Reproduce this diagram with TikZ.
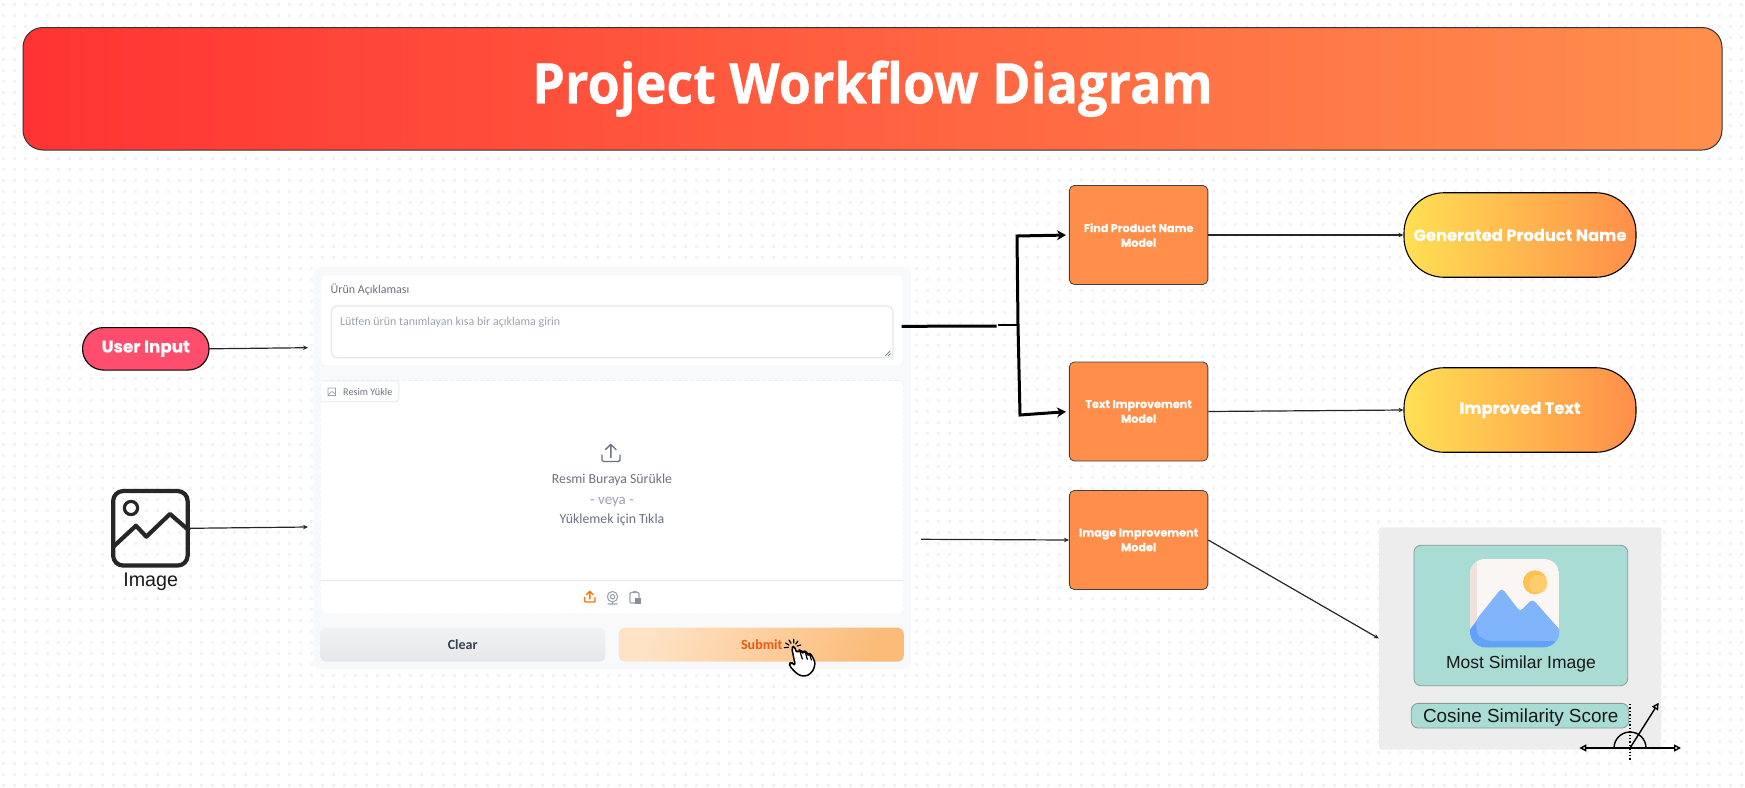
\documentclass[tikz,border=0pt]{standalone}
\usepackage{fontspec}
\usetikzlibrary{arrows.meta}
\setmainfont{Liberation Sans}
\newfontfamily\titlefont{Open Sans}[FakeStretch=0.93, BoldFeatures={FakeBold=0.6}]
\newfontfamily\boxfont{Poppins}[BoldFeatures={FakeBold=0.4}]
\newfontfamily\formfont{Carlito}

\definecolor{dotgray}{HTML}{F3F3F3}
\definecolor{headred}{HTML}{FF3333}
\definecolor{headorange}{HTML}{FF8F4D}
\definecolor{inputpink}{HTML}{FF4D6D}
\definecolor{modelorange}{HTML}{FF8E4A}
\definecolor{resultyellow}{HTML}{FFE053}
\definecolor{edgegray}{HTML}{E5E7EB}
\definecolor{panelgray}{HTML}{F8F9FB}
\definecolor{labelgray}{HTML}{6B7280}
\definecolor{hintgray}{HTML}{9CA3AF}
\definecolor{cleardark}{HTML}{374151}
\definecolor{submitred}{HTML}{EA580C}
\definecolor{submitlight}{HTML}{FEE2C4}
\definecolor{submitdark}{HTML}{FBBC7A}
\definecolor{similarteal}{HTML}{A8DCD4}
\definecolor{tealedge}{HTML}{8A9A98}
\definecolor{sungold}{HTML}{FFC250}
\definecolor{sunlight}{HTML}{FFCD6E}
\definecolor{skypaper}{HTML}{F9F6F3}
\definecolor{skyshade}{HTML}{EFE2DD}
\definecolor{hilllight}{HTML}{80B4FB}
\definecolor{hilldark}{HTML}{61A2F9}

\tikzset{
    dotrow/.style={dotgray, line width=3pt, dash pattern=on 3pt off 8pt},
    modelbox/.style={draw=black!75, fill=modelorange, rounded corners=5pt, line width=0.8pt,
        minimum width=138.5pt, minimum height=99pt, inner sep=0pt, align=center, text=white,
        font=\boxfont\bfseries\fontsize{11.2}{14.7}\selectfont},
    resultbox/.style={draw=black, left color=resultyellow, right color=modelorange, rounded corners=40pt,
        line width=1.1pt, minimum width=232pt, minimum height=84.5pt, inner sep=0pt, text=white,
        font=\boxfont\bfseries\fontsize{16.3}{18}\selectfont},
    cardbox/.style={fill=white, rounded corners=6pt, inner sep=0pt},
    formtext/.style={font=\formfont\fontsize{13.8}{16}\selectfont, inner sep=0pt},
    hinttext/.style={font=\formfont\fontsize{12}{14}\selectfont, inner sep=0pt},
    linkarrow/.style={draw=black!85, line width=1.2pt, -{Stealth[length=5pt,width=4.5pt]}},
    splitarrow/.style={draw=black, line width=3pt, shorten >=3pt, -{Stealth[length=9pt,width=10pt]}},
    iconline/.style={line width=1.4pt, line cap=round, line join=round},
    anglearrow/.style={line width=1.4pt, {Triangle[open,length=7pt,width=7pt]}-{Triangle[open,length=7pt,width=7pt]}}
}

\begin{document}
\begin{tikzpicture}[x=1pt, y=-1pt]
    \useasboundingbox (0,0) rectangle (1745,787);

    % Dotted background
    \foreach \rowy in {4.3,15.3,...,786}
        \draw[dotrow] (1.5,\rowy) -- (1745,\rowy);

    % Header
    \node[draw=black!80, left color=headred, right color=headorange, rounded corners=20pt, line width=1pt,
        minimum width=1699pt, minimum height=122.5pt, inner sep=0pt, text=white,
        font=\titlefont\bfseries\fontsize{56}{60}\selectfont] (header) at (872.5,88.75) {Project Workflow Diagram};

    % Inputs
    \node[draw=black, fill=inputpink, rounded corners=21pt, line width=1.1pt, minimum width=126.5pt, minimum height=42.5pt,
        inner sep=0pt, text=white, font=\boxfont\bfseries\fontsize{16.8}{18}\selectfont] (userinput) at (145.8,348.8) {User Input};
    \node[draw=black!85, rounded corners=10pt, line width=4.2pt, minimum width=74.5pt, minimum height=74.5pt, inner sep=0pt] (imageicon) at (150.4,528.3) {};
    \draw[black!85, line width=4.2pt, line join=round] (112.7,547.3) -- (136,525.7) -- (146.3,536.7) -- (170,514) -- (189.3,530.7);
    \draw[black!85, line width=3.2pt] (131,508) circle (6.6pt);
    \node[font=\fontsize{19.7}{22}\selectfont, text=black!90, inner sep=0pt] (imagelabel) at (150.7,582) {Image};

    % Form panel
    \node[fill=panelgray, rounded corners=6pt, minimum width=597.5pt, minimum height=402pt, inner sep=0pt] (formpanel) at (612.5,468) {};
    \node[cardbox, draw=edgegray!60, minimum width=583pt, minimum height=91.7pt] (textcard) at (612.2,320.2) {};
    \node[hinttext, anchor=west, text=labelgray] (textlabel) at (330.5,290) {Ürün Açıklaması};
    \node[cardbox, draw=edgegray, line width=1.2pt, minimum width=561.7pt, minimum height=51.7pt] (textarea) at (612.2,331.9) {};
    \node[hinttext, anchor=west, text=hintgray] (texthint) at (339.8,322.7) {Lütfen ürün tanımlayan kısa bir açıklama girin};
    \draw[labelgray, line width=0.7pt] (885,356) -- (890,351) (888,356) -- (890.5,353.5);

    \node[cardbox, draw=edgegray, dashed, minimum width=583pt, minimum height=233.3pt] (imagecard) at (612.2,497.3) {};
    \draw[draw=edgegray, fill=white, line width=0.8pt, rounded corners=4pt] (321,381) -- (399,381) -- (399,401.7) -- (321,401.7);
    \draw[hintgray, line width=0.7pt] (328,388) rectangle (335.5,395.5) (328,395) -- (332,391.5) -- (335.5,394);
    \node[formtext, anchor=west, text=labelgray, font=\formfont\fontsize{10.2}{13}\selectfont] (tablabel) at (343,391.7) {Resim Yükle};

    \draw[labelgray, iconline] (610.8,457.5) -- (610.8,444.5) (605.5,449.5) -- (610.8,444.3) -- (616,449.5);
    \draw[labelgray, iconline, rounded corners=1.5pt] (602,455) -- (602,461.5) -- (620,461.5) -- (620,455);
    \node[formtext, text=labelgray] (droptext) at (612,480.3) {Resmi Buraya Sürükle};
    \node[formtext, text=hintgray, font=\formfont\fontsize{15}{16}\selectfont] (ortext) at (612,502) {- veya -};
    \node[formtext, text=labelgray] (clicktext) at (612,520.3) {Yüklemek için Tıkla};
    \draw[edgegray, line width=0.9pt] (321,580.3) -- (903.7,580.3);

    % Source icons
    \draw[orange!90!red, iconline] (589.8,599) -- (589.8,591.5) (586.5,594.5) -- (589.8,591.3) -- (593,594.5);
    \draw[orange!90!red, iconline, rounded corners=1pt] (584.5,597.5) -- (584.5,602) -- (595,602) -- (595,597.5);
    \draw[hintgray, line width=1.1pt] (612.5,596.7) circle (5.2pt) (612.5,596.7) circle (2.2pt) (607.5,604) -- (617.5,604) (612.5,602) -- (612.5,604);
    \draw[hintgray, line width=1.1pt, rounded corners=1pt] (630,592.5) rectangle (639,603);
    \draw[hintgray, line width=1.1pt] (632.5,592) -- (636.5,592);
    \fill[labelgray!80] (635,597.5) rectangle (641,603.5);

    % Buttons
    \node[cardbox, top color=gray!10, bottom color=edgegray, minimum width=285.3pt, minimum height=34pt] (clearbutton) at (462.7,644.7) {};
    \node[formtext, text=cleardark, font=\formfont\bfseries\fontsize{14}{16}\selectfont] (cleartext) at (462.7,645) {Clear};
    \node[cardbox, left color=submitlight, right color=submitdark, shading angle=65, minimum width=284.9pt, minimum height=34pt] (submitbutton) at (761.3,644.7) {};
    \node[formtext, anchor=west, text=submitred, font=\formfont\bfseries\fontsize{14}{16}\selectfont] (submittext) at (740.9,645) {Submit};

    % Pointer on the button
    \begin{scope}[shift={(780,635)}, x=0.3333pt, y=-0.3333pt]
        \draw[black, line width=1.2pt, line cap=round] (17,24) -- (27,30) (27,15) -- (33,25) (41,13) -- (41,24) (54,18) -- (47,27) (62,30) -- (51,33) (13,38) -- (25,37);
        \draw[fill=white, line width=1.5pt, line join=round, rounded corners=2.5pt]
            (35,38) -- (43,33) -- (50,54) -- (58,45) -- (64,48) -- (68,54) -- (74,48) -- (80,52) -- (84,60) -- (90,56) -- (96,62)
            -- (106,84) -- (100,106) -- (84,122) -- (62,123) -- (46,112) -- (28,92) -- (30,83) -- (38,84) -- (46,92) -- cycle;
        \draw[line width=1.2pt, line cap=round] (60,50) -- (67,72) (76,52) -- (82,73) (90,60) -- (94,75);
    \end{scope}

    % Models and results
    \node[modelbox] (findmodel) at (1138.6,235) {Find Product Name\\Model};
    \node[modelbox] (textmodel) at (1138.6,411.5) {Text Improvement\\Model};
    \node[modelbox] (imagemodel) at (1138.6,540) {Image Improvement\\Model};
    \node[resultbox] (nameresult) at (1520,235) {Generated Product Name};
    \node[resultbox] (textresult) at (1520,410) {Improved Text};

    % Similarity panel
    \node[fill=black!7, rounded corners=2pt, minimum width=282.3pt, minimum height=222.4pt, inner sep=0pt] (similarpanel) at (1520.2,638.5) {};
    \node[draw=tealedge, fill=similarteal, rounded corners=7pt, line width=0.8pt, minimum width=213.7pt, minimum height=140.4pt, inner sep=0pt] (similarbox) at (1520.8,615.5) {};
    \begin{scope}
        \clip[rounded corners=15pt] (1470,559) rectangle (1559,647.3);
        \fill[skypaper] (1470,559) rectangle (1559,647.3);
        \fill[skyshade] (1470,559) rectangle (1476.5,647.3);
        \fill[hilldark, rounded corners=4pt] (1465,636) -- (1501.7,588) -- (1520,612) -- (1532.3,599) -- (1565,636) -- (1565,650) -- (1465,650) -- cycle;
        \fill[hilllight, rounded corners=4pt] (1476,620) -- (1501.7,588) -- (1520,612) -- (1532.3,599) -- (1565,636) -- (1565,641) -- (1487,641) -- (1477,635) -- cycle;
    \end{scope}
    \fill[sungold] (1535,582.3) circle (12pt);
    \fill[sunlight] (1538,584) circle (9.2pt);
    \node[font=\fontsize{17.5}{20}\selectfont, text=black!90, inner sep=0pt] (similartext) at (1521,664) {Most Similar Image};
    \node[draw=tealedge, fill=similarteal, rounded corners=7pt, line width=0.8pt, minimum width=217.4pt, minimum height=24.7pt, inner sep=0pt] (scorebox) at (1520,715.7) {};
    \node[font=\fontsize{18.9}{20}\selectfont, text=black!90, inner sep=0pt] (scoretext) at (1520.7,717.8) {Cosine Similarity Score};

    % Angle mark
    \coordinate (anglecenter) at (1630,748);
    \coordinate (angleleft) at (1579.3,748);
    \coordinate (angleright) at (1681,748);
    \coordinate (angletip) at (1658.7,702.7);
    \coordinate (dottop) at (1630,704);
    \coordinate (dotbottom) at (1630,760);
    \draw[anglearrow] (angleleft) -- (angleright);
    \draw[line width=1.4pt, -{Triangle[open,length=7pt,width=7pt]}] (anglecenter) -- (angletip);
    \draw[line width=1.4pt] (1614,748) arc[start angle=180, end angle=0, radius=16pt];
    \draw[line width=1.4pt, dotted] (dottop) -- (dotbottom);

    % Connectors
    \coordinate (inputend) at (308,347.7);
    \coordinate (imageend) at (308,527);
    \coordinate (imageout) at (921,539.3);
    \coordinate (textout) at (901.6,326.3);
    \coordinate (knee) at (996.5,326.1);
    \coordinate (kneeright) at (998,325);
    \coordinate (split) at (1018,325);
    \coordinate (upperbend) at (1017,236);
    \coordinate (lowerbend) at (1020,415);
    \draw[linkarrow] (userinput.east) -- (inputend);
    \draw[linkarrow] (imageicon.east) -- (imageend);
    \draw[black, line width=3pt] (textout) -- (knee);
    \draw[black, line width=2.6pt] (kneeright) -- (split);
    \draw[splitarrow] (split) -- (upperbend) -- (findmodel.west);
    \draw[splitarrow] (split) -- (lowerbend) -- (textmodel.west);
    \draw[linkarrow] (findmodel.east) -- (nameresult.west);
    \draw[linkarrow] (textmodel.east) -- (textresult.west);
    \draw[linkarrow] (imageout) -- (imagemodel.west);
    \draw[linkarrow] (imagemodel.east) -- (similarpanel.west);
\end{tikzpicture}
\end{document}
